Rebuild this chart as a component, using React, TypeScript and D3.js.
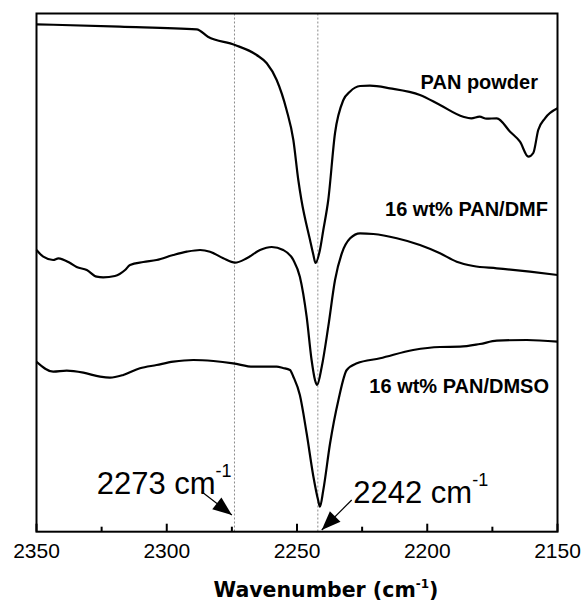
import React from "react";
import * as d3 from "d3";

// Wavenumber (cm^-1) / relative transmittance (a.u.)
const panPowderWn = [2350, 2318, 2288.5, 2284.2, 2273.8, 2265.5, 2261.6, 2257.8, 2254, 2251.4, 2249.5, 2248.3, 2245, 2243.7, 2242.9, 2241.2, 2239.9, 2238, 2235.4, 2232.2, 2229.7, 2225.8, 2222, 2214.3, 2202.8, 2195.1, 2186.2, 2183.1, 2179.9, 2177.2, 2173.3, 2168.2, 2164.4, 2161.2, 2159.3, 2157.4, 2154.8, 2150];
const panPowderT = [507.4, 505, 502.4, 495, 486.7, 476.7, 468.4, 451.7, 421.7, 391.7, 351.7, 331.7, 291.7, 276.7, 268.7, 281.7, 301.7, 331.7, 398.7, 431.7, 440, 445.7, 446, 443.4, 436.7, 426.7, 415, 413.4, 415, 413, 413.4, 400, 390, 375, 378.7, 401.7, 413.4, 423.4];

const dmfWn = [2350, 2347.4, 2343.6, 2341.6, 2337.1, 2334.6, 2330.7, 2326.9, 2324.4, 2319.9, 2316, 2314.1, 2309, 2303.9, 2297.5, 2292.3, 2287.2, 2283.4, 2278.3, 2273.8, 2269.3, 2264.2, 2259.7, 2255.3, 2251.4, 2248.9, 2246.3, 2244.4, 2243.1, 2242.3, 2240.5, 2238, 2235.4, 2232.8, 2229.6, 2225.8, 2220.7, 2211.7, 2202.8, 2195.1, 2188.7, 2182.3, 2173.3, 2160.6, 2150];
const dmfT = [281.7, 275, 271.7, 273.4, 268.7, 264.7, 261.7, 255, 254.4, 255.7, 261.7, 266.7, 269.7, 271.7, 276.7, 280, 281.7, 280, 273.4, 269, 273.4, 281.7, 284.7, 281.7, 271.7, 255, 215, 171.7, 151.7, 146.7, 165, 205, 251.7, 278.4, 293.4, 298.4, 297.7, 293.4, 286.7, 278.4, 270, 265.7, 263.4, 260, 256.7];

const dmsoWn = [2350, 2343.6, 2338.4, 2332, 2325.6, 2321.8, 2316.7, 2310.3, 2303.9, 2297.5, 2289.8, 2282.1, 2274.5, 2266.8, 2257.8, 2255.4, 2252.7, 2251.4, 2248.9, 2246.3, 2243.7, 2241.9, 2241.2, 2239.9, 2237.3, 2234.1, 2230.9, 2227, 2218.1, 2205.4, 2195.1, 2187.4, 2179.8, 2173.3, 2161.8, 2150];
const dmsoT = [170, 160, 161, 159, 155, 154, 156.7, 163.4, 166.7, 170, 171.7, 170.7, 168.4, 165, 165, 163.7, 161.7, 155, 136.7, 98.4, 55, 31.7, 25, 41.7, 88.4, 131.7, 161.7, 168.4, 173.4, 181.7, 184.7, 185, 187.7, 191, 191.7, 190];

const seriesNames = ["PAN powder", "16 wt% PAN/DMF", "16 wt% PAN/DMSO"];
const labelY = [442.7, 315.7, 139];

const majorTicks = [2350, 2300, 2250, 2200, 2150];
const minorTicks = [2325, 2275, 2225, 2175];

const refLines = [2274, 2242];
const refLabels = ["2273 cm", "2242 cm"];
const arrowTipWn = [2275, 2240.5];
const arrowTipT = [16.7, 1.7];

const W = 582, H = 605;
const left = 36.5, right = 557.5, top = 13.5, bottom = 531.7;

export default function App() {
  const x = d3.scaleLinear().domain([2350, 2150]).range([left, right]);
  const y = d3.scaleLinear().domain([0, 518.2]).range([bottom, top]);
  const line = d3
    .line<[number, number]>()
    .x((d) => x(d[0]))
    .y((d) => y(d[1]))
    .curve(d3.curveMonotoneX);

  const series = [
    panPowderWn.map((w, i) => [w, panPowderT[i]] as [number, number]),
    dmfWn.map((w, i) => [w, dmfT[i]] as [number, number]),
    dmsoWn.map((w, i) => [w, dmsoT[i]] as [number, number]),
  ];

  // annotation layout (px offsets from arrow tips)
  const ann = [
    { tx: x(arrowTipWn[0]), ty: y(arrowTipT[0]), sx: 201.7, sy: 491.7, lx: 96.7, ly: 494 },
    { tx: x(arrowTipWn[1]), ty: y(arrowTipT[1]), sx: 351.7, sy: 500, lx: 353.3, ly: 503 },
  ];

  const arrowHead = (sx: number, sy: number, tx: number, ty: number) => {
    const ang = Math.atan2(ty - sy, tx - sx);
    const len = 19, half = 7.5;
    const bx = tx - len * Math.cos(ang), by = ty - len * Math.sin(ang);
    const px = -Math.sin(ang) * half, py = Math.cos(ang) * half;
    return `M${tx},${ty}L${bx + px},${by + py}L${bx - px},${by - py}Z`;
  };

  return (
    <svg
      width={W}
      height={H}
      style={{ position: "absolute", left: 0, top: 0, background: "#fff" }}
      fontFamily="'Liberation Sans', Arial, sans-serif"
    >
      <rect x={0} y={0} width={W} height={H} fill="#fff" />
      {refLines.map((r, i) => (
        <line
          key={"r" + i}
          x1={x(r)}
          x2={x(r)}
          y1={top}
          y2={bottom}
          stroke="#8a8a8a"
          strokeWidth={1}
          strokeDasharray="2,2"
        />
      ))}
      {series.map((s, i) => (
        <path key={"s" + i} d={line(s) || ""} fill="none" stroke="#000" strokeWidth={2.2} strokeLinejoin="round" />
      ))}
      <rect x={left} y={top} width={right - left} height={bottom - top} fill="none" stroke="#000" strokeWidth={2} />
      {majorTicks.map((t) => (
        <g key={"M" + t}>
          <line x1={x(t)} x2={x(t)} y1={bottom} y2={bottom - 8} stroke="#000" strokeWidth={2} />
          <text x={x(t)} y={558} textAnchor="middle" fontSize={21}>
            {t}
          </text>
        </g>
      ))}
      {minorTicks.map((t) => (
        <line key={"m" + t} x1={x(t)} x2={x(t)} y1={bottom} y2={bottom - 5} stroke="#000" strokeWidth={2} />
      ))}
      {seriesNames.map((n, i) => (
        <text key={"n" + i} x={[538, 548, 549][i]} y={y(labelY[i])} textAnchor="end" fontSize={20} fontWeight="bold">
          {n}
        </text>
      ))}
      {ann.map((a, i) => (
        <g key={"a" + i}>
          <line x1={a.sx} y1={a.sy} x2={a.tx} y2={a.ty} stroke="#000" strokeWidth={1.2} />
          <path d={arrowHead(a.sx, a.sy, a.tx, a.ty)} fill="#000" />
          <text x={a.lx} y={a.ly} fontSize={31}>
            {refLabels[i]}
            <tspan fontSize={18} dy={-17}>-1</tspan>
          </text>
        </g>
      ))}
      <text x={326} y={597} textAnchor="middle" fontSize={20.5} fontWeight="bold" fontFamily="'DejaVu Sans', Verdana, sans-serif">
        Wavenumber (cm
        <tspan fontSize={12} dy={-9}>-1</tspan>
        <tspan dy={9}>)</tspan>
      </text>
    </svg>
  );
}
